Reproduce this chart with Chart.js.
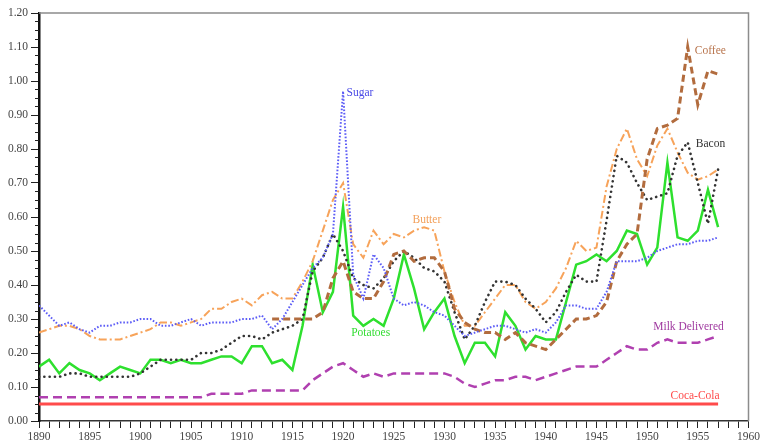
<!DOCTYPE html>
<html>
<head>
<meta charset="utf-8">
<script src="https://cdn.jsdelivr.net/npm/chart.js@4.4.1/dist/chart.umd.min.js"></script>
<style>
  html, body { margin: 0; padding: 0; background: #fff; }
  #wrap { width: 762px; height: 443px; position: relative; }
</style>
</head>
<body>
<div id="wrap"><canvas id="chart"></canvas></div>
<script>
// years on the x axis
const years = [
  1890, 1891, 1892, 1893, 1894, 1895, 1896, 1897, 1898, 1899,
  1900, 1901, 1902, 1903, 1904, 1905, 1906, 1907, 1908, 1909,
  1910, 1911, 1912, 1913, 1914, 1915, 1916, 1917, 1918, 1919,
  1920, 1921, 1922, 1923, 1924, 1925, 1926, 1927, 1928, 1929,
  1930, 1931, 1932, 1933, 1934, 1935, 1936, 1937, 1938, 1939,
  1940, 1941, 1942, 1943, 1944, 1945, 1946, 1947, 1948, 1949,
  1950, 1951, 1952, 1953, 1954, 1955, 1956, 1957
];

// prices (dollars)
const sugar = [
  0.34, 0.31, 0.28, 0.29, 0.27, 0.26, 0.28, 0.28, 0.29, 0.29,
  0.30, 0.30, 0.28, 0.28, 0.29, 0.30, 0.28, 0.29, 0.29, 0.29,
  0.30, 0.30, 0.31, 0.27, 0.30, 0.35, 0.40, 0.45, 0.48, 0.55,
  0.97, 0.43, 0.36, 0.49, 0.45, 0.36, 0.34, 0.35, 0.34, 0.32,
  0.31, 0.28, 0.25, 0.26, 0.27, 0.28, 0.28, 0.27, 0.26, 0.27,
  0.26, 0.29, 0.34, 0.34, 0.33, 0.33, 0.38, 0.47, 0.47, 0.47,
  0.48, 0.50, 0.51, 0.52, 0.52, 0.53, 0.53, 0.54
];
const butter = [
  0.26, 0.27, 0.28, 0.28, 0.27, 0.25, 0.24, 0.24, 0.24, 0.25,
  0.26, 0.27, 0.29, 0.29, 0.28, 0.29, 0.30, 0.33, 0.33, 0.35,
  0.36, 0.34, 0.37, 0.38, 0.36, 0.36, 0.41, 0.47, 0.56, 0.65,
  0.70, 0.52, 0.48, 0.56, 0.52, 0.55, 0.54, 0.56, 0.57, 0.56,
  0.44, 0.35, 0.28, 0.28, 0.32, 0.36, 0.40, 0.40, 0.35, 0.33,
  0.35, 0.39, 0.45, 0.53, 0.50, 0.51, 0.69, 0.80, 0.86, 0.77,
  0.72, 0.81, 0.86, 0.79, 0.73, 0.71, 0.72, 0.74
];
const bacon = [
  0.13, 0.13, 0.13, 0.14, 0.14, 0.13, 0.13, 0.13, 0.13, 0.13,
  0.14, 0.16, 0.18, 0.18, 0.18, 0.18, 0.20, 0.20, 0.21, 0.23,
  0.25, 0.25, 0.24, 0.26, 0.27, 0.28, 0.30, 0.44, 0.48, 0.55,
  0.50, 0.42, 0.40, 0.39, 0.42, 0.47, 0.50, 0.48, 0.45, 0.44,
  0.41, 0.32, 0.24, 0.28, 0.35, 0.41, 0.41, 0.40, 0.36, 0.33,
  0.29, 0.32, 0.38, 0.43, 0.41, 0.41, 0.59, 0.78, 0.76, 0.70,
  0.65, 0.66, 0.67, 0.78, 0.82, 0.70, 0.58, 0.74
];
const coffee = [
  null, null, null, null, null, null, null, null, null, null,
  null, null, null, null, null, null, null, null, null, null,
  null, null, null, 0.30, 0.30, 0.30, 0.30, 0.30, 0.32, 0.42,
  0.47, 0.38, 0.36, 0.36, 0.41, 0.49, 0.50, 0.47, 0.48, 0.48,
  0.44, 0.33, 0.29, 0.27, 0.26, 0.26, 0.24, 0.26, 0.23, 0.22,
  0.21, 0.24, 0.27, 0.30, 0.30, 0.31, 0.35, 0.47, 0.52, 0.55,
  0.77, 0.86, 0.87, 0.89, 1.10, 0.93, 1.03, 1.02
];
const potatoes = [
  0.16, 0.18, 0.14, 0.17, 0.15, 0.14, 0.12, 0.14, 0.16, 0.15,
  0.14, 0.18, 0.18, 0.17, 0.18, 0.17, 0.17, 0.18, 0.19, 0.19,
  0.17, 0.22, 0.22, 0.17, 0.18, 0.15, 0.28, 0.46, 0.32, 0.38,
  0.63, 0.31, 0.28, 0.30, 0.28, 0.36, 0.49, 0.39, 0.27, 0.32,
  0.36, 0.25, 0.17, 0.23, 0.23, 0.19, 0.32, 0.28, 0.21, 0.25,
  0.24, 0.24, 0.35, 0.46, 0.47, 0.49, 0.47, 0.50, 0.56, 0.55,
  0.46, 0.51, 0.76, 0.54, 0.53, 0.56, 0.68, 0.57
];
const milk = [
  0.07, 0.07, 0.07, 0.07, 0.07, 0.07, 0.07, 0.07, 0.07, 0.07,
  0.07, 0.07, 0.07, 0.07, 0.07, 0.07, 0.07, 0.08, 0.08, 0.08,
  0.08, 0.09, 0.09, 0.09, 0.09, 0.09, 0.09, 0.12, 0.14, 0.16,
  0.17, 0.15, 0.13, 0.14, 0.13, 0.14, 0.14, 0.14, 0.14, 0.14,
  0.14, 0.13, 0.11, 0.10, 0.11, 0.12, 0.12, 0.13, 0.13, 0.12,
  0.13, 0.14, 0.15, 0.16, 0.16, 0.16, 0.18, 0.20, 0.22, 0.21,
  0.21, 0.23, 0.24, 0.23, 0.23, 0.23, 0.24, 0.25
];
const cocaCola = [
  0.05, 0.05, 0.05, 0.05, 0.05, 0.05, 0.05, 0.05, 0.05, 0.05,
  0.05, 0.05, 0.05, 0.05, 0.05, 0.05, 0.05, 0.05, 0.05, 0.05,
  0.05, 0.05, 0.05, 0.05, 0.05, 0.05, 0.05, 0.05, 0.05, 0.05,
  0.05, 0.05, 0.05, 0.05, 0.05, 0.05, 0.05, 0.05, 0.05, 0.05,
  0.05, 0.05, 0.05, 0.05, 0.05, 0.05, 0.05, 0.05, 0.05, 0.05,
  0.05, 0.05, 0.05, 0.05, 0.05, 0.05, 0.05, 0.05, 0.05, 0.05,
  0.05, 0.05, 0.05, 0.05, 0.05, 0.05, 0.05, 0.05
];

const SERIF = "'Liberation Serif', 'DejaVu Serif', serif";

function pts(values) {
  return years.map((y, i) => ({ x: y, y: values[i] }));
}

// line + its inline label (label anchor in data units: year, price)
function series(name, values, color, textColor, width, dash, cap, at) {
  return {
    label: name,
    data: pts(values),
    borderColor: color,
    borderWidth: width,
    borderDash: dash,
    borderCapStyle: cap,
    pointRadius: 0,
    tension: 0,
    spanGaps: false,
    textColor: textColor,
    textAt: at
  };
}

const datasets = [
  series('Coca-Cola', cocaCola, '#ff4b4b', '#ff4b4b', 3, [], 'butt', [1952.3, 0.073]),
  series('Milk Delivered', milk, '#b040b0', '#a03aa0', 2.5, [9, 5], 'butt', [1950.6, 0.276]),
  series('Sugar', sugar, '#5c5cf6', '#4a4ae6', 2, [1.6, 1.8], 'butt', [1920.35, 0.965]),
  series('Coffee', coffee, '#b26c3e', '#b8744c', 3, [7, 4], 'butt', [1954.7, 1.089]),
  series('Bacon', bacon, '#333333', '#333333', 2.6, [0.1, 5.2], 'round', [1954.8, 0.815]),
  series('Butter', butter, '#f7a35a', '#f3a05a', 2, [8, 3, 2, 3], 'butt', [1926.85, 0.591]),
  series('Potatoes', potatoes, '#2ee02e', '#33dd33', 2.5, [], 'butt', [1920.8, 0.258])
];

// grey frame on top/right and short minor ticks on the y axis
const framePlugin = {
  id: 'frame',
  afterDraw(chart) {
    const { ctx, chartArea: a, scales } = chart;
    ctx.save();
    ctx.strokeStyle = '#8c8c8c';
    ctx.lineWidth = 1.5;
    ctx.beginPath();
    ctx.moveTo(a.left, a.top);
    ctx.lineTo(a.right, a.top);
    ctx.lineTo(a.right, a.bottom);
    ctx.stroke();

    const y = scales.y;
    ctx.strokeStyle = '#222';
    ctx.lineWidth = 1;
    for (let i = 0; i <= 48; i++) {
      if (i % 4 === 0) continue;
      const py = Math.round(y.getPixelForValue(i * 0.025)) + 0.5;
      ctx.beginPath();
      ctx.moveTo(a.left - 4, py);
      ctx.lineTo(a.left, py);
      ctx.stroke();
    }
    ctx.restore();
  }
};

const labelPlugin = {
  id: 'lineLabels',
  afterDatasetsDraw(chart) {
    const { ctx, scales } = chart;
    ctx.save();
    ctx.font = '11.5px ' + SERIF;
    ctx.textAlign = 'left';
    ctx.textBaseline = 'middle';
    chart.data.datasets.forEach(ds => {
      ctx.fillStyle = ds.textColor;
      ctx.fillText(ds.label, scales.x.getPixelForValue(ds.textAt[0]), scales.y.getPixelForValue(ds.textAt[1]));
    });
    ctx.restore();
  }
};

new Chart(document.getElementById('chart').getContext('2d'), {
  type: 'line',
  data: { datasets: datasets },
  options: {
    responsive: true,
    maintainAspectRatio: false,
    animation: false,
    layout: { padding: { top: 13, right: 12, left: 0, bottom: 0 } },
    plugins: { legend: { display: false }, tooltip: { enabled: false } },
    scales: {
      x: {
        type: 'linear',
        min: 1890,
        max: 1960,
        afterFit: s => { s.height = 22; },
        grid: { drawOnChartArea: false, tickLength: 7, tickColor: '#222', tickWidth: 1 },
        border: { color: '#333', width: 1.5 },
        ticks: {
          stepSize: 1,
          autoSkip: false,
          maxRotation: 0,
          padding: 2,
          color: '#444',
          font: { family: SERIF, size: 11.5 },
          callback: v => (v % 5 === 0 ? String(v) : '')
        }
      },
      y: {
        min: 0,
        max: 1.2,
        afterFit: s => { s.width = 39; },
        grid: { drawOnChartArea: false, tickLength: 8, tickColor: '#222', tickWidth: 1 },
        border: { color: '#111', width: 2.5 },
        ticks: {
          stepSize: 0.1,
          padding: 3,
          color: '#444',
          font: { family: SERIF, size: 11.5 },
          callback: v => v.toFixed(2)
        }
      }
    }
  },
  plugins: [framePlugin, labelPlugin]
});
</script>
</body>
</html>
